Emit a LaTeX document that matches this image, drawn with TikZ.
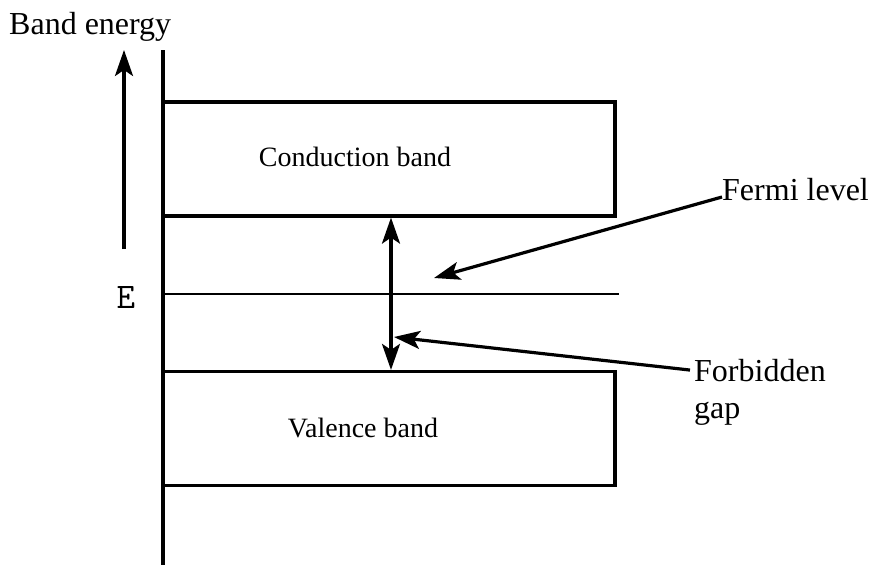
\documentclass[tikz,border=0pt]{standalone}
\usepackage{fontspec}
\setmainfont{Liberation Serif}
\usetikzlibrary{arrows.meta}
\tikzset{
  bandbox/.style={draw, line width=3.2pt, minimum width=452pt, minimum height=114pt, inner sep=0pt},
  bandtext/.style={font=\fontsize{28}{32}\selectfont, inner sep=0pt},
  sidetext/.style={font=\fontsize{32}{36}\selectfont, inner sep=0pt, anchor=base west},
  pointer/.style={line width=3.2pt, -{Stealth[length=26pt, width=18pt, inset=6pt]}},
}
\begin{document}
\begin{tikzpicture}[x=1pt, y=-1pt] % pixel-like units, y going down

    \useasboundingbox (0,0) rectangle (871,565);

    % Energy axis
    \coordinate (axtop) at (163,50);
    \coordinate (axbot) at (163,565);
    \draw[line width=3.4pt] (axtop) -- (axbot);
    \node[sidetext] (title) at (9,34) {Band energy};

    % Arrow E
    \node[font=\ttfamily\fontsize{36}{40}\selectfont, inner sep=0pt] (elabel) at (126,297) {E};
    \coordinate (etail) at (124,249);
    \coordinate (ehead) at (124,50);
    \draw[pointer] (etail) -- (ehead);

    % Bands
    \node[bandbox] (cband) at (389,159) {};
    \node[bandbox] (vband) at (389,428.5) {};
    \node[bandtext] (ctext) at (355,157) {Conduction band};
    \node[bandtext] (vtext) at (363,428) {Valence band};

    % Fermi level
    \coordinate (fstart) at (163,294);
    \coordinate (fend) at (619,294);
    \draw[line width=2.2pt] (fstart) -- (fend);

    % Gap arrow
    \draw[line width=3.2pt, {Stealth[length=26pt, width=18pt, inset=6pt]}-{Stealth[length=26pt, width=18pt, inset=6pt]}] (cband.south -| 391,0) -- (vband.north -| 391,0);

    % Labels and pointers
    \node[sidetext] (fermi) at (722,200) {Fermi level};
    \node[sidetext] (gap) at (694,381) {Forbidden};
    \node[sidetext] (gap2) at (694,418) {gap};
    \coordinate (fhead) at (434,278);
    \coordinate (ghead) at (394,337);
    \draw[pointer] (fermi.base west) ++(0,-3) -- (fhead);
    \draw[pointer] (gap.west) ++(-4,0) -- (ghead);

\end{tikzpicture}
\end{document}
